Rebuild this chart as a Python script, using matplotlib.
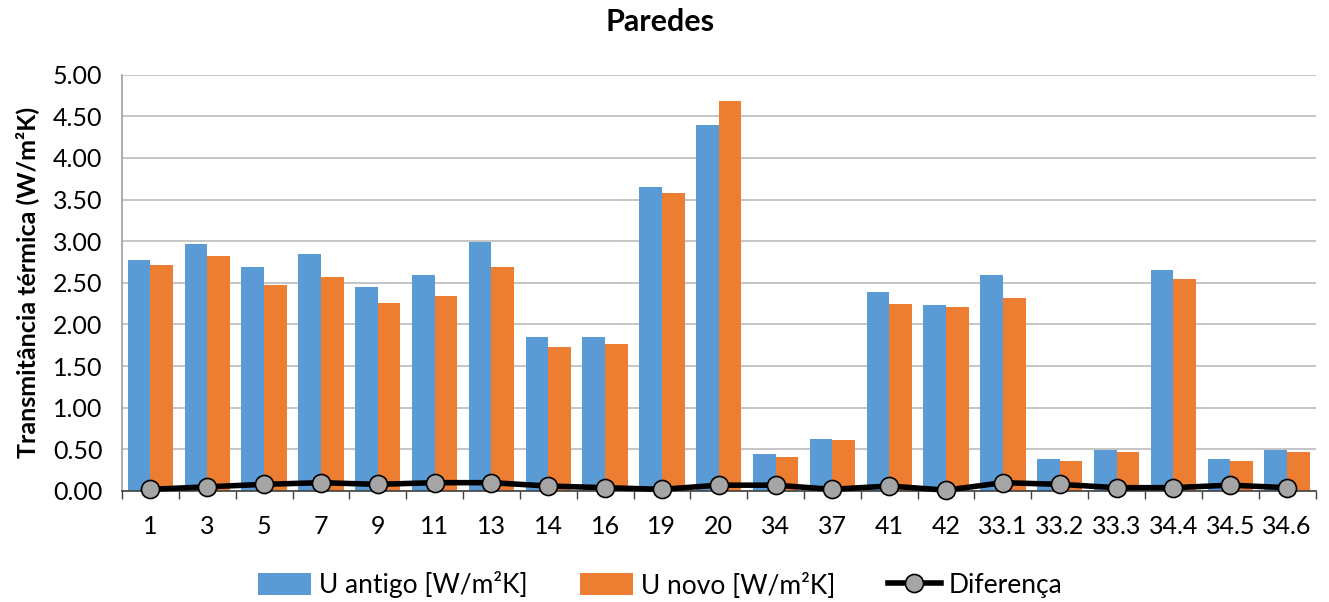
import matplotlib
matplotlib.use("Agg")
import matplotlib.pyplot as plt
import numpy as np
from matplotlib.ticker import MultipleLocator, FixedLocator, FormatStrFormatter

plt.rcParams['font.family'] = ['Lato', 'DejaVu Sans']

categories = ["1", "3", "5", "7", "9", "11", "13", "14", "16", "19", "20",
              "34", "37", "41", "42", "33.1", "33.2", "33.3", "34.4", "34.5", "34.6"]
u_antigo = [2.77, 2.97, 2.69, 2.85, 2.45, 2.59, 2.99, 1.85, 1.85, 3.65, 4.40,
            0.44, 0.62, 2.39, 2.23, 2.59, 0.39, 0.49, 2.65, 0.39, 0.49]
u_novo = [2.71, 2.82, 2.47, 2.57, 2.26, 2.34, 2.69, 1.73, 1.77, 3.58, 4.68,
          0.41, 0.61, 2.25, 2.21, 2.32, 0.36, 0.47, 2.55, 0.36, 0.47]
diferenca = [0.02, 0.05, 0.08, 0.10, 0.08, 0.10, 0.10, 0.06, 0.04, 0.02, 0.07,
             0.07, 0.02, 0.06, 0.01, 0.10, 0.08, 0.04, 0.04, 0.07, 0.04]

blue = "#5B9BD5"
orange = "#ED7D31"

fig = plt.figure(figsize=(13.29, 6.02), dpi=100)
ax = fig.add_axes([122 / 1329, 1 - 491 / 602, (1315.5 - 122) / 1329, (491 - 74.7) / 602])

x = np.arange(len(categories))
w = 0.4
b1 = ax.bar(x - w / 2, u_antigo, width=w, color=blue, label="U antigo [W/m²K]", zorder=2)
b2 = ax.bar(x + w / 2, u_novo, width=w, color=orange, label="U novo [W/m²K]", zorder=2)
ln, = ax.plot(x, diferenca, color="black", lw=4, marker="o", ms=13,
              markerfacecolor="#A5A5A5", markeredgecolor="black", markeredgewidth=1.2,
              label="Diferença", zorder=3, clip_on=False)

ax.set_xlim(-0.5, len(categories) - 0.5)
ax.set_ylim(0, 5)
ax.yaxis.set_major_locator(MultipleLocator(0.5))
ax.yaxis.set_major_formatter(FormatStrFormatter("%.2f"))
ax.grid(axis="y", color="#C0C0C0", lw=1.3, zorder=0)
ax.set_axisbelow(True)

ax.set_xticks(x)
ax.set_xticklabels(categories)
ax.xaxis.set_minor_locator(FixedLocator(np.arange(-0.5, len(categories), 1.0)))
ax.tick_params(axis="x", which="major", length=0, pad=17, labelsize=18)
ax.tick_params(axis="x", which="minor", length=6, width=1, color="#404040", direction="out")
ax.tick_params(axis="y", length=0, pad=14, labelsize=18)

for s in ["top", "right"]:
    ax.spines[s].set_visible(False)
ax.spines["left"].set_color("#A6A6A6")
ax.spines["left"].set_linewidth(1.3)
ax.spines["bottom"].set_color("#404040")
ax.spines["bottom"].set_linewidth(1.2)

ax.set_ylabel("Transmitância térmica (W/m²K)", fontsize=18, fontweight="bold", labelpad=10)
fig.text(660 / 1329, 1 - 22 / 602, "Paredes", ha="center", va="center",
         fontsize=22, fontweight="bold")

fig.legend(handles=[b1, b2, ln], loc="center", bbox_to_anchor=(660 / 1329, 1 - 585 / 602),
           ncol=3, frameon=False, fontsize=19, handlelength=2.0, handleheight=0.9,
           columnspacing=2.0, handletextpad=0.3)

fig.savefig("out.png", dpi=100)
